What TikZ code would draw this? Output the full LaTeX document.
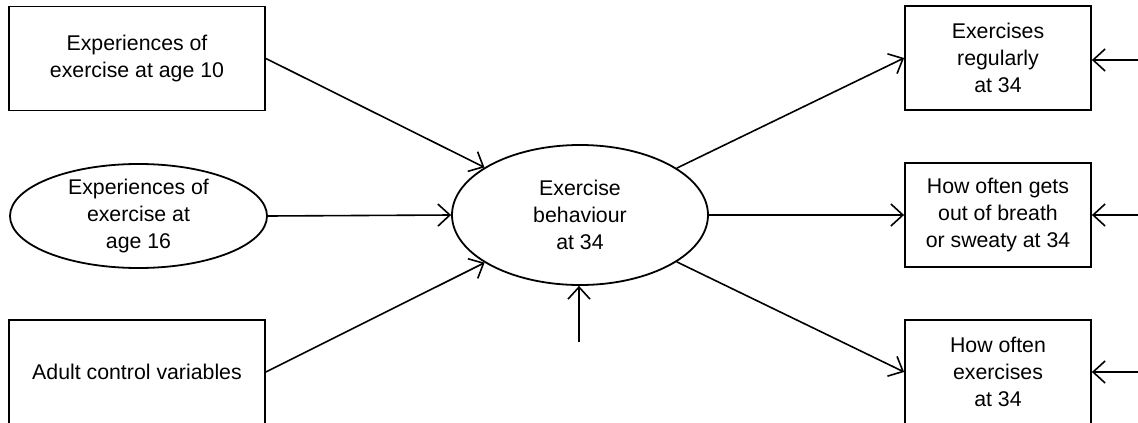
\documentclass[tikz,border=0pt]{standalone}
\usepackage{fontspec}
\setmainfont{Liberation Sans}
\usetikzlibrary{arrows.meta,shapes.geometric}
\begin{document}
\begin{tikzpicture}[x=1pt,y=-1pt,
  every node/.style={font=\fontsize{21.3}{26.7}\selectfont, align=center, inner sep=0pt, line width=1.8pt},
  leftbox/.style={draw, rectangle, minimum width=256pt, minimum height=104pt},
  rightbox/.style={draw, rectangle, minimum width=186pt, minimum height=104pt},
  latent/.style={draw, ellipse},
  path/.style={line width=1.6pt, -{Straight Barb[length=12pt,width=22pt,line width=1.6pt]}}
]
\useasboundingbox (0,0) rectangle (1138,423);
\fill[white] (0,0) rectangle (1138,423);

% exogenous variables
\node[leftbox] (age10) at (137,58.5) {Experiences of\\exercise at age 10};
\node[latent, minimum width=257pt, minimum height=104pt] (age16) at (138.5,216) {Experiences of\\exercise at\\age 16};
\node[leftbox] (adult) at (137,372) {Adult control variables};

% latent outcome
\node[latent, minimum width=256pt, minimum height=140pt] (beh) at (580,215) {Exercise\\behaviour\\at 34};

% indicators
\node[rightbox] (reg) at (998,58) {Exercises\\regularly\\at 34};
\node[rightbox] (breath) at (998,215) {How often gets\\out of breath\\or sweaty at 34};
\node[rightbox] (often) at (998,372) {How often\\exercises\\at 34};

% free ends of disturbance arrows
\coordinate (dbeh) at (579,342);
\coordinate (dreg) at (1138,60);
\coordinate (dbreath) at (1138,215);
\coordinate (doften) at (1138,372);

% structural paths
\draw[path] (age10.east) -- (beh);
\draw[path] (age16.east) -- (beh.west);
\draw[path] (adult.east) -- (beh);
\draw[path] (dbeh) -- (beh.south -| dbeh);

% measurement paths
\draw[path] (beh) -- (reg.west);
\draw[path] (beh.east) -- (breath.west);
\draw[path] (beh) -- (often.west);

% residuals
\draw[path] (dreg) -- (reg.east |- dreg);
\draw[path] (dbreath) -- (breath.east);
\draw[path] (doften) -- (often.east);
\end{tikzpicture}
\end{document}
